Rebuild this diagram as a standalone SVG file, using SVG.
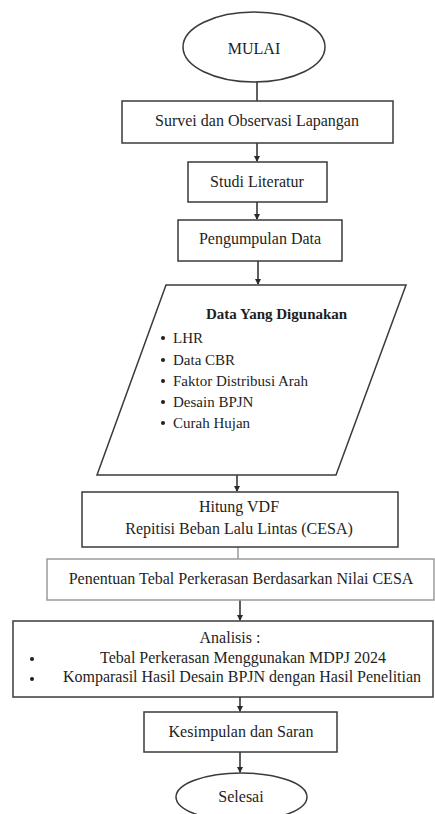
<svg xmlns="http://www.w3.org/2000/svg" width="435" height="814" viewBox="0 0 435 814">
<style>
.s{fill:#fff;stroke:#3a3a3a;stroke-width:1.5}
.g{fill:#fff;stroke:#9a9a9a;stroke-width:1.5}
text{font-family:'Liberation Serif',serif;font-size:16px;fill:#1e1e1e}
.c{text-anchor:middle}
.b{font-weight:bold;font-size:15px}
.l{font-size:15px}
.con{stroke:#2a2a2a;stroke-width:1.5;fill:none}
</style>
<defs>
<marker id="ah" markerWidth="6" markerHeight="6" refX="5" refY="3" orient="auto" markerUnits="userSpaceOnUse">
<path d="M0,0 L6,3 L0,6 Z" fill="#2a2a2a"/>
</marker>
</defs>
<rect width="435" height="814" fill="#fff"/>
<g id="connectors">
<line class="con" x1="257" y1="82" x2="257" y2="101"/>
<line class="con" x1="257" y1="143" x2="257" y2="161" marker-end="url(#ah)"/>
<line class="con" x1="257" y1="202" x2="257" y2="219" marker-end="url(#ah)"/>
<line class="con" x1="258" y1="261" x2="258" y2="284" stroke-width="2" marker-end="url(#ah)"/>
<line class="con" x1="237" y1="475" x2="237" y2="491" marker-end="url(#ah)"/>
<line x1="238" y1="547" x2="238" y2="559" stroke="#9a9a9a" stroke-width="1.5"/>
<line class="con" x1="240" y1="600" x2="240" y2="620" marker-end="url(#ah)"/>
<line class="con" x1="240" y1="697" x2="240" y2="711" marker-end="url(#ah)"/>
<line class="con" x1="240" y1="752" x2="240" y2="772" marker-end="url(#ah)"/>
</g>
<g font-family="Liberation Serif, serif">
<g id="mulai">
<ellipse class="s" cx="254" cy="47" rx="71" ry="35"/>
<text class="c" x="254" y="54" font-size="17">MULAI</text>
</g>
<g id="survei">
<rect class="s" x="122" y="101" width="271" height="42"/>
<text class="c" x="257" y="126">Survei dan Observasi Lapangan</text>
</g>
<g id="studi">
<rect class="s" x="188" y="162" width="139" height="40"/>
<text class="c" x="257" y="187">Studi Literatur</text>
</g>
<g id="pengumpulan">
<rect class="s" x="178" y="220" width="164" height="41"/>
<text class="c" x="260" y="244">Pengumpulan Data</text>
</g>
<g id="data">
<polygon class="s" points="166,285 406,285 336,475 97,475"/>
<text class="b" x="206" y="319">Data Yang Digunakan</text>
<g fill="#1e1e1e">
<circle cx="163" cy="338" r="2"/>
<circle cx="163" cy="360" r="2"/>
<circle cx="163" cy="381" r="2"/>
<circle cx="163" cy="402" r="2"/>
<circle cx="163" cy="423" r="2"/>
</g>
<text class="l" x="173" y="343">LHR</text>
<text class="l" x="173" y="365">Data CBR</text>
<text class="l" x="173" y="386">Faktor Distribusi Arah</text>
<text class="l" x="173" y="407">Desain BPJN</text>
<text class="l" x="173" y="428">Curah Hujan</text>
</g>
<g id="hitung">
<rect class="s" x="82" y="492" width="316" height="55"/>
<text class="c" x="239" y="512">Hitung VDF</text>
<text class="c" x="239" y="534">Repitisi Beban Lalu Lintas (CESA)</text>
</g>
<g id="penentuan">
<rect class="g" x="47" y="559" width="387" height="41"/>
<text class="c" x="241" y="584">Penentuan Tebal Perkerasan Berdasarkan Nilai CESA</text>
</g>
<g id="analisis">
<rect class="s" x="13" y="621" width="420" height="76"/>
<text class="c" x="230" y="643">Analisis :</text>
<circle cx="32" cy="659" r="2" fill="#1e1e1e"/>
<circle cx="32" cy="679" r="2" fill="#1e1e1e"/>
<text class="c" x="243" y="663">Tebal Perkerasan Menggunakan MDPJ 2024</text>
<text class="c" x="242" y="682">Komparasil Hasil Desain BPJN dengan Hasil Penelitian</text>
</g>
<g id="kesimpulan">
<rect class="s" x="144" y="712" width="193" height="40"/>
<text class="c" x="241" y="737">Kesimpulan dan Saran</text>
</g>
<g id="selesai">
<ellipse class="s" cx="241.5" cy="797" rx="65.5" ry="24"/>
<text class="c" x="241" y="802">Selesai</text>
</g>
</g>
</svg>
